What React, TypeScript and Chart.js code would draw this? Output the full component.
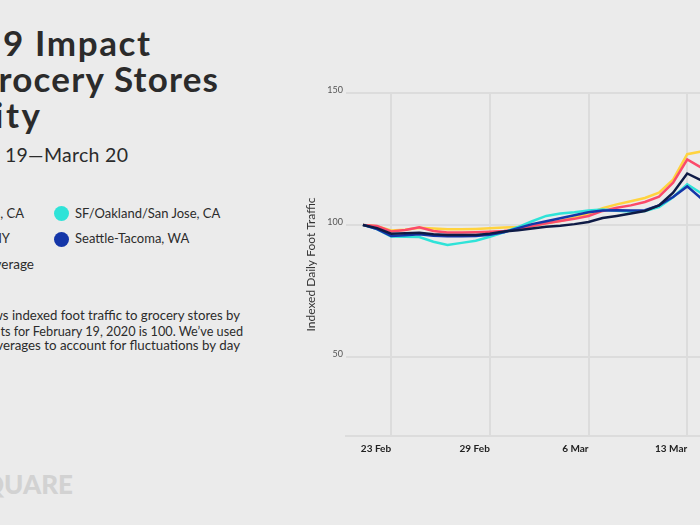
import React, { useEffect, useRef } from "react";
import { Chart, registerables } from "chart.js";

Chart.register(...registerables);

// Categories: one point per day, 19 Feb 2020 .. 20 Mar 2020
const dates = [
  "19 Feb", "20 Feb", "21 Feb", "22 Feb", "23 Feb", "24 Feb", "25 Feb", "26 Feb", "27 Feb", "28 Feb", "29 Feb",
  "1 Mar", "2 Mar", "3 Mar", "4 Mar", "5 Mar", "6 Mar", "7 Mar", "8 Mar", "9 Mar", "10 Mar",
  "11 Mar", "12 Mar", "13 Mar", "14 Mar", "15 Mar", "16 Mar", "17 Mar", "18 Mar", "19 Mar", "20 Mar",
];

// Series values (indexed, 19 Feb = 100) – visible part of the chart
const losAngeles = [100, 99.6, 97.5, 98.1, 99.1, 97.7, 97.1, 97.1, 97.2, 97.4, 97.7, 98.4, 99.6, 100.6, 101.5, 102.3, 103.4, 105.3, 106.5, 107.4, 108.7, 110.7, 116.0, 124.8, 121.7];
const nationalAverage = [100, 99.5, 97.9, 98.2, 98.9, 98.6, 98.4, 98.4, 98.5, 98.7, 99.0, 99.2, 99.6, 100.6, 101.5, 102.7, 104.3, 106.3, 107.8, 109.0, 110.2, 112.2, 117.2, 126.8, 127.8];
const newYork = [100, 98.8, 96.7, 96.8, 97.0, 96.5, 96.2, 96.2, 96.2, 96.7, 97.5, 98.0, 98.6, 99.3, 99.7, 100.3, 101.1, 102.6, 103.4, 104.3, 105.3, 107.4, 112.2, 119.5, 116.9];
const seattle = [100, 98.4, 95.8, 96.1, 96.5, 95.9, 95.7, 95.7, 95.8, 96.3, 97.2, 98.8, 100.3, 101.4, 102.5, 103.7, 104.8, 105.5, 105.6, 105.5, 105.6, 107.4, 110.6, 114.6, 110.0];
const sanFrancisco = [100, 98.4, 95.6, 95.5, 95.4, 93.6, 92.4, 93.2, 94.0, 95.5, 97.2, 99.2, 101.4, 103.4, 104.3, 104.8, 105.5, 105.8, 105.4, 105.1, 105.3, 106.8, 110.5, 115.4, 112.0];

// Axis ticks
const xTickDays = [2, 9, 16, 23, 30];
const xTickLabels = ["23 Feb", "29 Feb", "6 Mar", "13 Mar", "20 Mar"];
const yTicks = [50, 100, 150];

const BG = "#ebebeb";
const GRID = "#dcdcdc";
const TEXT = "#2b2b2b";
const FONT = "Lato, 'Open Sans', sans-serif";

const COLORS = {
  la: "#fb4a6a",
  avg: "#ffd33f",
  ny: "#0e1a45",
  sea: "#1436a8",
  sf: "#2fe3d8",
};

function toPoints(values: number[]) {
  return values.map((v, i) => ({ x: dates.indexOf(dates[i]), y: v }));
}

function Txt(props: {
  right: number;
  baseline: number;
  size: number;
  weight?: number;
  color?: string;
  spacing?: number;
  children: React.ReactNode;
}) {
  const { right, baseline, size, weight = 400, color = TEXT, spacing = 0, children } = props;
  const lh = size * 1.2;
  return (
    <div
      style={{
        position: "absolute",
        right: 700 - right - spacing,
        top: baseline - size * 0.987,
        fontSize: size,
        lineHeight: `${lh}px`,
        fontWeight: weight,
        color,
        whiteSpace: "nowrap",
        textAlign: "right",
        letterSpacing: spacing,
        fontFamily: FONT,
      }}
    >
      {children}
    </div>
  );
}

function Dot({ cx, cy, color }: { cx: number; cy: number; color: string }) {
  return (
    <div
      style={{
        position: "absolute",
        left: cx - 7.5,
        top: cy - 7.5,
        width: 15,
        height: 15,
        borderRadius: "50%",
        background: color,
      }}
    />
  );
}

export default function App() {
  const ref = useRef<HTMLCanvasElement>(null);

  useEffect(() => {
    if (!ref.current) return;
    const line = (label: string, values: number[], color: string, order: number) => ({
      label,
      data: toPoints(values),
      borderColor: color,
      backgroundColor: color,
      borderWidth: 2.5,
      pointRadius: 0,
      tension: 0,
      fill: false,
      order,
    });
    const chart = new Chart(ref.current, {
      type: "line",
      data: {
        datasets: [
          line("New York, NY", newYork, COLORS.ny, 1),
          line("Seattle-Tacoma, WA", seattle, COLORS.sea, 2),
          line("SF/Oakland/San Jose, CA", sanFrancisco, COLORS.sf, 3),
          line("Los Angeles, CA", losAngeles, COLORS.la, 4),
          line("National Average", nationalAverage, COLORS.avg, 5),
        ],
      },
      options: {
        animation: false,
        responsive: false,
        maintainAspectRatio: false,
        layout: { padding: { top: 13, right: 10, left: 0, bottom: 0 } },
        plugins: { legend: { display: false }, tooltip: { enabled: false } },
        scales: {
          x: {
            type: "linear",
            min: -1.2,
            max: 31,
            afterBuildTicks: (s: any) => {
              s.ticks = xTickDays.map((v) => ({ value: v }));
            },
            afterFit: (s: any) => {
              s.height = 30;
            },
            ticks: {
              align: "end",
              autoSkip: false,
              maxRotation: 0,
              padding: 7,
              color: "#222",
              font: { family: FONT, size: 10, weight: "bold" },
              callback: (v: any) => {
                const i = xTickDays.indexOf(Number(v));
                return i >= 0 ? xTickLabels[i] : "";
              },
            },
            grid: { color: GRID, lineWidth: 2, drawTicks: false },
            border: { display: true, color: GRID, width: 2 },
          },
          y: {
            min: 20,
            max: 150,
            afterBuildTicks: (s: any) => {
              s.ticks = yTicks.map((v) => ({ value: v }));
            },
            afterFit: (s: any) => {
              s.width = 46;
            },
            ticks: {
              padding: 3,
              labelOffset: -3,
              color: "#555",
              font: { family: FONT, size: 9 },
            },
            grid: { color: GRID, lineWidth: 2, drawTicks: false },
            border: { display: false },
            title: {
              display: true,
              text: "Indexed Daily Foot Traffic",
              color: "#333",
              font: { family: FONT, size: 12 },
              padding: { top: 4, bottom: 4 },
            },
          },
        },
      },
    } as any);
    return () => chart.destroy();
  }, []);

  return (
    <div
      style={{
        position: "fixed",
        left: 0,
        top: 0,
        width: 700,
        height: 525,
        overflow: "hidden",
        background: BG,
        fontFamily: FONT,
      }}
    >
      {/* Title */}
      <Txt right={150} baseline={56} size={35} weight={700} spacing={1.6}>COVID-19 Impact</Txt>
      <Txt right={218} baseline={92} size={35} weight={700} spacing={1.2}>on Grocery Stores</Txt>
      <Txt right={40} baseline={128} size={35} weight={700} spacing={2.5}>by City</Txt>
      <Txt right={128} baseline={162} size={19.5} spacing={0.3}>February 19—March 20</Txt>

      {/* Legend */}
      <Txt right={24} baseline={219} size={13}>Los Angeles, CA</Txt>
      <Txt right={10} baseline={244} size={13}>New York, NY</Txt>
      <Txt right={34} baseline={269} size={13.5}>National Average</Txt>
      <Dot cx={61} cy={213.5} color={COLORS.sf} />
      <Dot cx={61} cy={239} color={COLORS.sea} />
      <div style={{ position: "absolute", left: 75, top: 219 - 13 * 0.987, fontSize: 13, lineHeight: "15.6px", color: TEXT, whiteSpace: "nowrap" }}>
        SF/Oakland/San Jose, CA
      </div>
      <div style={{ position: "absolute", left: 75, top: 244 - 13 * 0.987, fontSize: 13, lineHeight: "15.6px", color: TEXT, whiteSpace: "nowrap" }}>
        Seattle-Tacoma, WA
      </div>

      {/* Description */}
      <Txt right={240} baseline={321.5} size={13.2}>This chart shows indexed foot traffic to grocery stores by</Txt>
      <Txt right={243} baseline={336.5} size={12.7}>city, where visits for February 19, 2020 is 100. We’ve used</Txt>
      <Txt right={240} baseline={351.5} size={13.3}>7-day averages to account for fluctuations by day</Txt>

      {/* Logo */}
      <Txt right={73} baseline={495} size={26} weight={900} color="#d2d2d2">FOURSQUARE</Txt>

      <canvas
        ref={ref}
        width={510}
        height={386}
        style={{ position: "absolute", left: 300, top: 80, width: 510, height: 386 }}
      />
    </div>
  );
}
